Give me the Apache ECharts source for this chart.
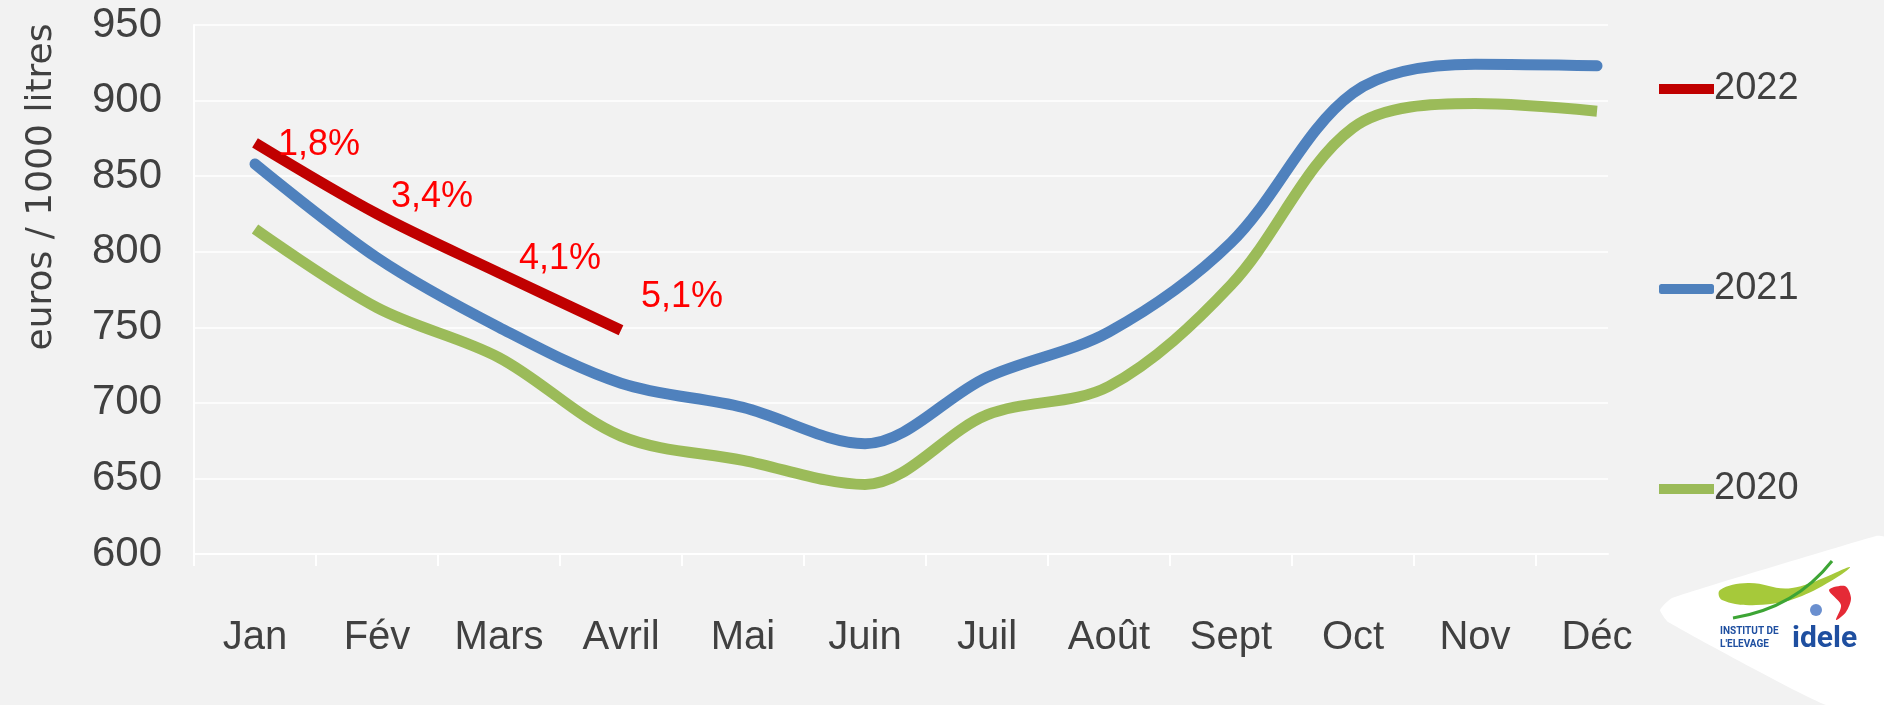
<!DOCTYPE html>
<html>
<head>
<meta charset="utf-8">
<script src="https://cdn.jsdelivr.net/npm/echarts@6/dist/echarts.min.js"></script>
<style>
  html, body { margin: 0; padding: 0; background: #f2f2f2; }
  #chart { width: 1884px; height: 705px; }
</style>
</head>
<body>
<div id="chart"></div>
<script>
// prix du lait, euros / 1000 litres
const months = ['Jan', 'Fév', 'Mars', 'Avril', 'Mai', 'Juin', 'Juil', 'Août', 'Sept', 'Oct', 'Nov', 'Déc'];
const prix2020 = [815, 763, 730, 678, 662, 646, 692, 711, 778, 882, 898, 893];
const prix2021 = [858, 796, 750, 713, 697, 673, 717, 747, 806, 905, 924, 923];
const prix2022 = [872, 825, 786, 748];
const hausse2022 = ['1,8%', '3,4%', '4,1%', '5,1%'];
const yTicks = [600, 650, 700, 750, 800, 850, 900, 950];

// label placement of the % values (px)
const labelOffsets = [[18, 2], [9, -17], [15, -14], [15, -33]];

const textColor = '#404040';
const font = '"Liberation Sans", Arial, sans-serif';

function toPoints(arr) {
    return arr.map((v, i) => [i + 0.5, v]);
}

const chart = echarts.init(document.getElementById('chart'));

const option = {
    backgroundColor: '#f2f2f2',
    animation: false,
    grid: { left: 194, right: 276, top: 25, bottom: 151, containLabel: false },
    xAxis: {
        type: 'value',
        min: 0,
        max: 11.59,
        axisLine: { show: true, lineStyle: { color: '#ffffff', width: 2 } },
        axisTick: {
            show: true,
            length: 12,
            customValues: months.map((m, i) => i),
            lineStyle: { color: '#ffffff', width: 2 }
        },
        axisLabel: {
            customValues: months.map((m, i) => i + 0.5),
            formatter: function (v) { return months[Math.round(v - 0.5)] || ''; },
            margin: 64,
            color: textColor,
            fontFamily: font,
            fontSize: 40
        },
        splitLine: { show: false }
    },
    yAxis: {
        type: 'value',
        min: yTicks[0],
        max: yTicks[yTicks.length - 1],
        interval: 50,
        axisLine: { show: true, lineStyle: { color: '#ffffff', width: 2 } },
        axisTick: { show: false },
        axisLabel: { margin: 32, color: textColor, fontFamily: font, fontSize: 42 },
        splitLine: { show: true, lineStyle: { color: '#ffffff', width: 1.5 } }
    },
    legend: {
        orient: 'vertical',
        left: 1654,
        top: 64,
        itemWidth: 55,
        itemHeight: 10,
        itemGap: 160,
        textStyle: { color: textColor, fontFamily: font, fontSize: 38, lineHeight: 40, padding: [0, 0, 0, -5] },
        data: [
            { name: '2022', icon: 'rect' },
            { name: '2021', icon: 'roundRect' },
            { name: '2020', icon: 'rect' }
        ]
    },
    graphic: [
        {
            type: 'text',
            x: 42,
            y: 187,
            rotation: Math.PI / 2,
            style: {
                text: 'euros / 1000 litres',
                fill: textColor,
                font: '36px "DejaVu Sans", sans-serif',
                align: 'center',
                verticalAlign: 'middle'
            }
        },
        // logo idele
        {
            type: 'group',
            children: [
                {
                    type: 'polygon',
                    shape: {
                        points: [[1660, 610], [1672, 598], [1876, 536], [1884, 537], [1884, 705], [1826, 705], [1668, 622]],
                        smooth: 0.15
                    },
                    style: { fill: '#ffffff' }
                },
                {
                    type: 'polygon',
                    shape: {
                        points: [[1720, 590], [1748, 583], [1792, 588], [1850, 567], [1802, 596], [1756, 605], [1722, 600]],
                        smooth: 0.4
                    },
                    style: { fill: '#a6c93a' }
                },
                {
                    type: 'bezierCurve',
                    shape: { x1: 1733, y1: 618, x2: 1832, y2: 561, cpx1: 1795, cpy1: 608 },
                    style: { stroke: '#3da535', lineWidth: 3, fill: null }
                },
                {
                    type: 'circle',
                    shape: { cx: 1816, cy: 610, r: 6 },
                    style: { fill: '#6a8fcf' }
                },
                {
                    type: 'polygon',
                    shape: {
                        points: [[1829, 590], [1845, 586], [1851, 598], [1846, 612], [1836, 620], [1841, 605]],
                        smooth: 0.3
                    },
                    style: { fill: '#e52a36' }
                },
                {
                    type: 'text',
                    x: 1720,
                    y: 631,
                    style: {
                        text: 'INSTITUT DE',
                        fill: '#1f4fa0',
                        font: 'bold 10px Roboto, sans-serif',
                        verticalAlign: 'middle'
                    }
                },
                {
                    type: 'text',
                    x: 1720,
                    y: 644,
                    style: {
                        text: "L'ELEVAGE",
                        fill: '#1f4fa0',
                        font: 'bold 10px Roboto, sans-serif',
                        verticalAlign: 'middle'
                    }
                },
                {
                    type: 'text',
                    x: 1792,
                    y: 639,
                    style: {
                        text: 'idele',
                        fill: '#1f4fa0',
                        font: 'bold 30px Roboto, sans-serif',
                        verticalAlign: 'middle'
                    }
                }
            ]
        }
    ],
    series: [
        {
            name: '2020',
            type: 'line',
            smooth: 0.33,
            symbol: 'none',
            color: '#9bbb59',
            lineStyle: { width: 11, cap: 'butt' },
            data: toPoints(prix2020)
        },
        {
            name: '2021',
            type: 'line',
            smooth: 0.33,
            symbol: 'none',
            color: '#4f81bd',
            lineStyle: { width: 11, cap: 'round' },
            data: toPoints(prix2021)
        },
        {
            name: '2022',
            type: 'line',
            smooth: 0.33,
            symbol: 'circle',
            symbolSize: 0,
            showSymbol: true,
            color: '#c00000',
            lineStyle: { width: 11, cap: 'butt' },
            data: toPoints(prix2022).map((p, i) => ({
                value: p,
                label: { offset: labelOffsets[i] }
            })),
            label: {
                show: true,
                position: 'right',
                distance: 5,
                formatter: function (p) { return hausse2022[p.dataIndex]; },
                color: '#ff0000',
                fontFamily: font,
                fontSize: 36
            }
        }
    ]
};

chart.setOption(option);
</script>
</body>
</html>
